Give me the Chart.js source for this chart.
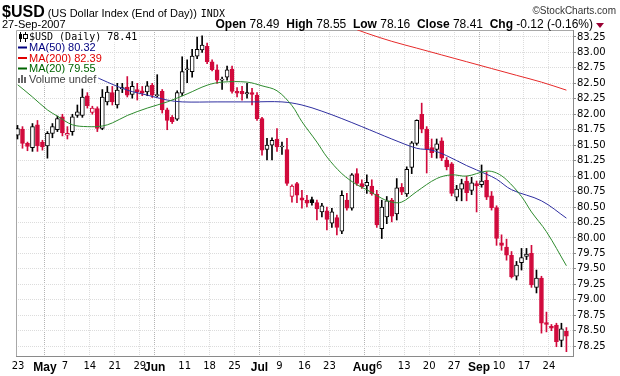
<!DOCTYPE html>
<html>
<head>
<meta charset="utf-8">
<script src="https://cdn.jsdelivr.net/npm/chart.js@4.4.1/dist/chart.umd.min.js"></script>
<style>
  html, body { margin: 0; padding: 0; background: #fff; }
  #wrap { position: relative; width: 620px; height: 376px; }
</style>
</head>
<body>
<div id="wrap"><canvas id="usd-chart" width="620" height="376"></canvas></div>
<script>
// trading days 23-Apr-2007 .. 27-Sep-2007, one entry per day
const opens = [81.66, 81.76, 81.53, 81.46, 81.83, 81.55, 81.49, 81.69, 81.75, 81.96,
  81.66, 81.72, 81.98, 81.98, 82.30, 82.03, 82.09, 81.77, 82.20, 82.35,
  82.15, 82.41, 82.44, 82.32, 82.40, 82.38, 82.36, 82.47, 82.30, 82.37,
  82.07, 81.95, 81.92, 82.34, 82.72, 82.69, 82.94, 83.04, 83.10, 82.85,
  82.72, 82.55, 82.60, 82.73, 82.37, 82.37, 82.33, 82.35, 82.31, 81.93,
  81.43, 81.50, 81.60, 81.47, 81.43, 80.67, 80.88, 80.65, 80.61, 80.62,
  80.57, 80.42, 80.44, 80.24, 80.33, 80.11, 80.61, 80.48, 81.04, 80.88,
  80.84, 80.84, 80.71, 80.15, 80.34, 80.61, 80.39, 80.82, 80.71, 81.14,
  81.53, 82.00, 81.76, 81.46, 81.43, 81.57, 81.26, 81.20, 80.66, 80.79,
  80.92, 80.77, 80.88, 80.86, 80.93, 80.68, 80.49, 79.92, 79.85, 79.72,
  79.38, 79.60, 79.70, 79.75, 79.20, 79.35, 78.63, 78.57, 78.59, 78.34,
  78.49];
const highs = [81.82, 81.80, 81.55, 81.85, 81.90, 81.58, 81.72, 81.85, 81.97, 82.00,
  81.80, 82.00, 82.15, 82.41, 82.35, 82.13, 82.12, 82.40, 82.45, 82.45,
  82.50, 82.50, 82.61, 82.53, 82.50, 82.45, 82.53, 82.50, 82.64, 82.40,
  82.10, 81.98, 82.38, 82.93, 82.88, 83.05, 83.25, 83.27, 83.15, 82.88,
  82.80, 82.60, 82.78, 82.78, 82.43, 82.45, 82.50, 82.42, 82.35, 81.95,
  81.61, 81.62, 81.77, 81.55, 81.61, 80.86, 80.90, 80.77, 80.69, 80.66,
  80.61, 80.56, 80.50, 80.48, 80.37, 80.76, 80.72, 81.04, 81.12, 80.94,
  81.02, 80.94, 80.77, 80.61, 80.67, 80.64, 80.96, 80.88, 81.15, 81.56,
  81.91, 82.18, 81.80, 81.60, 81.60, 81.62, 81.30, 81.22, 80.85, 80.95,
  81.00, 80.98, 80.92, 81.18, 81.07, 80.75, 80.52, 80.05, 79.98, 79.78,
  79.62, 79.83, 79.83, 79.88, 79.48, 79.38, 78.80, 78.60, 78.62, 78.62,
  78.55];
const lows = [81.60, 81.45, 81.41, 81.40, 81.40, 81.42, 81.29, 81.62, 81.72, 81.65,
  81.60, 81.66, 81.95, 81.95, 82.10, 82.00, 81.72, 81.75, 82.15, 82.15,
  82.10, 82.35, 82.28, 82.26, 82.23, 82.30, 82.30, 82.27, 82.28, 82.02,
  81.75, 81.85, 81.90, 82.30, 82.51, 82.60, 82.90, 83.00, 82.82, 82.70,
  82.50, 82.40, 82.55, 82.34, 82.28, 82.23, 82.26, 82.15, 81.90, 81.34,
  81.26, 81.26, 81.40, 81.35, 80.85, 80.58, 80.57, 80.48, 80.50, 80.53,
  80.29, 80.34, 80.13, 80.17, 80.05, 80.07, 80.45, 80.45, 80.85, 80.80,
  80.72, 80.69, 80.17, 79.99, 80.23, 80.26, 80.29, 80.70, 80.67, 81.04,
  81.50, 81.70, 81.05, 81.30, 81.29, 81.25, 81.10, 80.68, 80.60, 80.60,
  80.60, 80.70, 80.42, 80.82, 80.62, 80.45, 79.88, 79.80, 79.64, 79.35,
  79.32, 79.48, 79.65, 79.20, 79.11, 78.46, 78.48, 78.50, 78.24, 78.24,
  78.16];
const closes = [81.77, 81.53, 81.48, 81.80, 81.49, 81.47, 81.69, 81.80, 81.93, 81.70,
  81.69, 81.96, 82.04, 82.28, 82.14, 82.10, 81.77, 82.28, 82.36, 82.20,
  82.39, 82.43, 82.31, 82.45, 82.36, 82.34, 82.46, 82.31, 82.32, 82.07,
  81.90, 81.88, 82.35, 82.69, 82.73, 82.94, 83.05, 83.12, 82.85, 82.72,
  82.55, 82.57, 82.72, 82.37, 82.34, 82.33, 82.35, 82.32, 81.93, 81.42,
  81.50, 81.58, 81.47, 81.48, 80.88, 80.84, 80.69, 80.61, 80.56, 80.57,
  80.47, 80.52, 80.30, 80.42, 80.17, 80.69, 80.48, 81.02, 80.88, 80.83,
  80.90, 80.71, 80.21, 80.50, 80.60, 80.35, 80.81, 80.74, 81.11, 81.54,
  81.90, 81.76, 81.43, 81.38, 81.52, 81.29, 81.15, 80.72, 80.79, 80.88,
  80.73, 80.89, 80.84, 80.92, 80.66, 80.49, 79.99, 79.88, 79.72, 79.37,
  79.56, 79.68, 79.74, 79.24, 79.35, 78.62, 78.60, 78.54, 78.32, 78.53,
  78.41];

// moving averages: [day index, value]
const ma20 = [[0, 82.48], [3, 82.28], [6, 82.07], [8, 81.97], [11, 81.83], [14, 81.80],
  [17, 81.81], [19, 81.86], [22, 81.98], [26, 82.10], [30, 82.20], [34, 82.33],
  [38, 82.47], [41, 82.52], [46, 82.52], [49, 82.46], [52, 82.38], [55, 82.14],
  [57, 81.88], [60, 81.55], [62, 81.31], [65, 81.04], [68, 80.86], [70, 80.78],
  [73, 80.64], [75, 80.58], [77, 80.58], [80, 80.75], [84, 80.96], [87, 81.02],
  [90, 81.00], [94, 81.08], [96, 81.05], [98, 80.94], [101, 80.67], [103, 80.42],
  [106, 80.10], [110, 79.55]];
const ma50 = [[15, 82.63], [18, 82.52], [22, 82.39], [26, 82.31], [30, 82.23], [33, 82.20],
  [40, 82.20], [47, 82.20], [53, 82.20], [57, 82.15], [61, 82.05], [65, 81.93],
  [69, 81.80], [72, 81.70], [75, 81.60], [80, 81.45], [83, 81.42], [86, 81.33],
  [90, 81.17], [94, 81.03], [96, 80.95], [99, 80.78], [105, 80.60], [110, 80.32]];
const ma200 = [[67, 83.40], [70, 83.31], [75, 83.18], [80, 83.07], [85, 82.96], [90, 82.85],
  [95, 82.74], [100, 82.63], [105, 82.52], [110, 82.39]];

const xTickDays = [0, 6, 10, 15, 20, 25, 28, 34, 39, 44, 49, 53, 58, 63, 70, 73, 78, 83, 88, 93, 97, 102, 107];
const xTickLabels = ["23", "May", "7", "14", "21", "29", "Jun", "11", "18", "25", "Jul", "9", "16", "23",
  "Aug", "6", "13", "20", "27", "Sep", "10", "17", "24"];
const monthLabels = ["May", "Jun", "Jul", "Aug", "Sep"];
const yTicks = [78.25, 78.5, 78.75, 79, 79.25, 79.5, 79.75, 80, 80.25, 80.5, 80.75,
  81, 81.25, 81.5, 81.75, 82, 82.25, 82.5, 82.75, 83, 83.25];

const RED = "#d10a3c";
const BLACK = "#000000";
const xMin = -0.3, xMax = 111.32;

// stockcharts colouring: red if close below previous close, filled if close below open
const candleColor = closes.map((c, i) => (i > 0 && c < closes[i - 1]) ? RED : BLACK);
const candleFill = closes.map((c, i) => c < opens[i] ? candleColor[i] : "#ffffff");

const toPoints = (arr) => arr.map(p => ({ x: p[0], y: p[1] }));

const headerPlugin = {
  id: "header",
  beforeDatasetsDraw(chart) {
    const { ctx, chartArea: a } = chart;
    ctx.save();
    ctx.strokeStyle = "#a8a8a8";
    ctx.lineWidth = 1;
    ctx.beginPath();
    ctx.moveTo(a.left + 0.5, a.bottom);
    ctx.lineTo(a.left + 0.5, a.top + 0.5);
    ctx.lineTo(a.right, a.top + 0.5);
    ctx.stroke();
    ctx.restore();
  },
  afterDatasetsDraw(chart) {
    const ctx = chart.ctx;
    ctx.save();
    const rows = [
      { text: "$USD (Daily) 78.41", color: "#000", font: '10px "DejaVu Sans Mono"', icon: "candle" },
      { text: "MA(50) 80.32", color: "#000080", font: '11px "Liberation Sans"', icon: "#000080" },
      { text: "MA(200) 82.39", color: "#e00000", font: '11px "Liberation Sans"', icon: "#e00000" },
      { text: "MA(20) 79.55", color: "#006400", font: '11px "Liberation Sans"', icon: "#006400" },
      { text: "Volume undef", color: "#444", font: '11px "Liberation Sans"', icon: "volume" }
    ];
    const rowY = [37, 47.5, 58, 68.5, 79];
    ctx.textBaseline = "middle";
    rows.forEach((r, k) => {
      const y = rowY[k];
      ctx.font = r.font;
      const w = ctx.measureText(r.text).width;
      ctx.fillStyle = "#fff";
      ctx.fillRect(17, y - 5.5, 13 + w + 1, 11);
      if (r.icon === "candle") {
        ctx.fillStyle = "#000";
        ctx.fillRect(20, 32, 1, 10);
        ctx.fillRect(19, 34, 3, 5);
        ctx.fillRect(25, 32, 1, 10);
        ctx.strokeStyle = "#000";
        ctx.lineWidth = 1;
        ctx.fillStyle = "#fff";
        ctx.fillRect(23.5, 34.5, 4, 4);
        ctx.strokeRect(23.5, 34.5, 4, 4);
      } else if (r.icon === "volume") {
        ctx.fillStyle = "#666";
        ctx.fillRect(18, y - 1, 2, 5);
        ctx.fillRect(21, y - 4, 2, 8);
        ctx.fillRect(24, y - 2, 2, 6);
      } else {
        ctx.fillStyle = r.icon;
        ctx.fillRect(18, y - 1, 9, 2);
      }
      ctx.fillStyle = r.color;
      ctx.fillText(r.text, 29, y + 0.5);
    });
    ctx.restore();
  },
  afterDraw(chart) {
    const ctx = chart.ctx;
    ctx.save();
    ctx.textBaseline = "alphabetic";
    ctx.fillStyle = "#000";
    ctx.font = 'bold 16px "Liberation Sans"';
    ctx.fillText("$USD", 2, 17);
    let x = 2 + ctx.measureText("$USD").width + 3;
    ctx.font = '11px "Liberation Sans"';
    ctx.fillText("(US Dollar Index (End of Day))", x, 17);
    x += ctx.measureText("(US Dollar Index (End of Day))").width + 4;
    ctx.font = '10px "DejaVu Sans Mono"';
    ctx.fillText("INDX", x, 17);

    ctx.font = '10px "Liberation Sans"';
    ctx.fillStyle = "#333";
    ctx.textAlign = "right";
    ctx.fillText("\u00A9StockCharts.com", 616, 14);

    ctx.textAlign = "left";
    ctx.fillStyle = "#000";
    ctx.font = '11px "Liberation Sans"';
    ctx.fillText("27-Sep-2007", 2, 28);

    const parts = [
      ["Open", true], [" 78.49  ", false], ["High", true], [" 78.55  ", false],
      ["Low", true], [" 78.16  ", false], ["Close", true], [" 78.41  ", false],
      ["Chg", true], [" -0.12 (-0.16%)", false]
    ];
    const fontFor = b => (b ? "bold " : "") + '12px "Liberation Sans"';
    let total = 0;
    parts.forEach(p => { ctx.font = fontFor(p[1]); total += ctx.measureText(p[0]).width; });
    x = 593 - total;
    parts.forEach(p => {
      ctx.font = fontFor(p[1]);
      ctx.fillText(p[0], x, 28);
      x += ctx.measureText(p[0]).width;
    });
    ctx.fillStyle = "#990033";
    ctx.beginPath();
    ctx.moveTo(596, 23);
    ctx.lineTo(604, 23);
    ctx.lineTo(600, 28);
    ctx.closePath();
    ctx.fill();
    ctx.restore();
  }
};

new Chart(document.getElementById("usd-chart"), {
  type: "bar",
  data: {
    datasets: [
      {
        type: "line", label: "MA(20)", data: toPoints(ma20),
        borderColor: "#2e8b2e", borderWidth: 1, pointRadius: 0, tension: 0.35
      },
      {
        type: "line", label: "MA(50)", data: toPoints(ma50),
        borderColor: "#2f2fa0", borderWidth: 1, pointRadius: 0, tension: 0.35
      },
      {
        type: "line", label: "MA(200)", data: toPoints(ma200),
        borderColor: "#e62a2a", borderWidth: 1, pointRadius: 0, tension: 0.35
      },
      {
        label: "body",
        data: opens.map((o, i) => ({ x: i, y: [Math.min(o, closes[i]), Math.max(o, closes[i])] })),
        backgroundColor: candleFill,
        borderColor: candleColor,
        borderWidth: 1,
        borderSkipped: false,
        barThickness: 4,
        minBarLength: 1,
        grouped: false
      },
      {
        label: "wick",
        data: lows.map((l, i) => ({ x: i, y: [l, highs[i]] })),
        backgroundColor: candleColor,
        borderWidth: 0,
        barThickness: 1,
        grouped: false
      }
    ]
  },
  options: {
    responsive: false,
    animation: false,
    events: [],
    layout: { padding: { left: 16, top: 30, right: 0, bottom: 0 } },
    plugins: {
      legend: { display: false },
      tooltip: { enabled: false }
    },
    scales: {
      x: {
        type: "linear",
        min: xMin,
        max: xMax,
        offset: false,
        afterBuildTicks: (scale) => {
          scale.ticks = xTickDays.map(d => ({ value: Math.max(d - 0.5, 0.1) }));
        },
        afterFit: (scale) => { scale.height = 20; },
        grid: {
          offset: false,
          drawTicks: false,
          color: (c) => c.index === 0 ? "rgba(0,0,0,0)"
            : (monthLabels.includes(xTickLabels[c.index]) ? "#b4b4b4" : "#dcdcdc")
        },
        border: { display: true, color: "#8a8a8a", dash: [1, 1] },
        ticks: {
          autoSkip: false,
          maxRotation: 0,
          minRotation: 0,
          padding: 4,
          color: "#000",
          font: (c) => monthLabels.includes(xTickLabels[c.index])
            ? { family: "Liberation Sans", size: 12, weight: "bold" }
            : { family: "DejaVu Sans", size: 10 },
          callback: (value, index) => xTickLabels[index]
        }
      },
      y: {
        position: "right",
        min: 78.09,
        max: 83.363,
        afterBuildTicks: (scale) => {
          scale.ticks = yTicks.map(v => ({ value: v }));
        },
        afterFit: (scale) => { scale.width = 47; },
        grid: { color: "#dcdcdc", tickLength: 3, tickColor: "#8a8a8a" },
        border: { display: true, color: "#8a8a8a", dash: [1, 1] },
        ticks: {
          padding: 1,
          color: "#000",
          font: { family: "DejaVu Sans", size: 10 },
          callback: (v) => Number(v).toFixed(2)
        }
      }
    }
  },
  plugins: [headerPlugin]
});
</script>
</body>
</html>
